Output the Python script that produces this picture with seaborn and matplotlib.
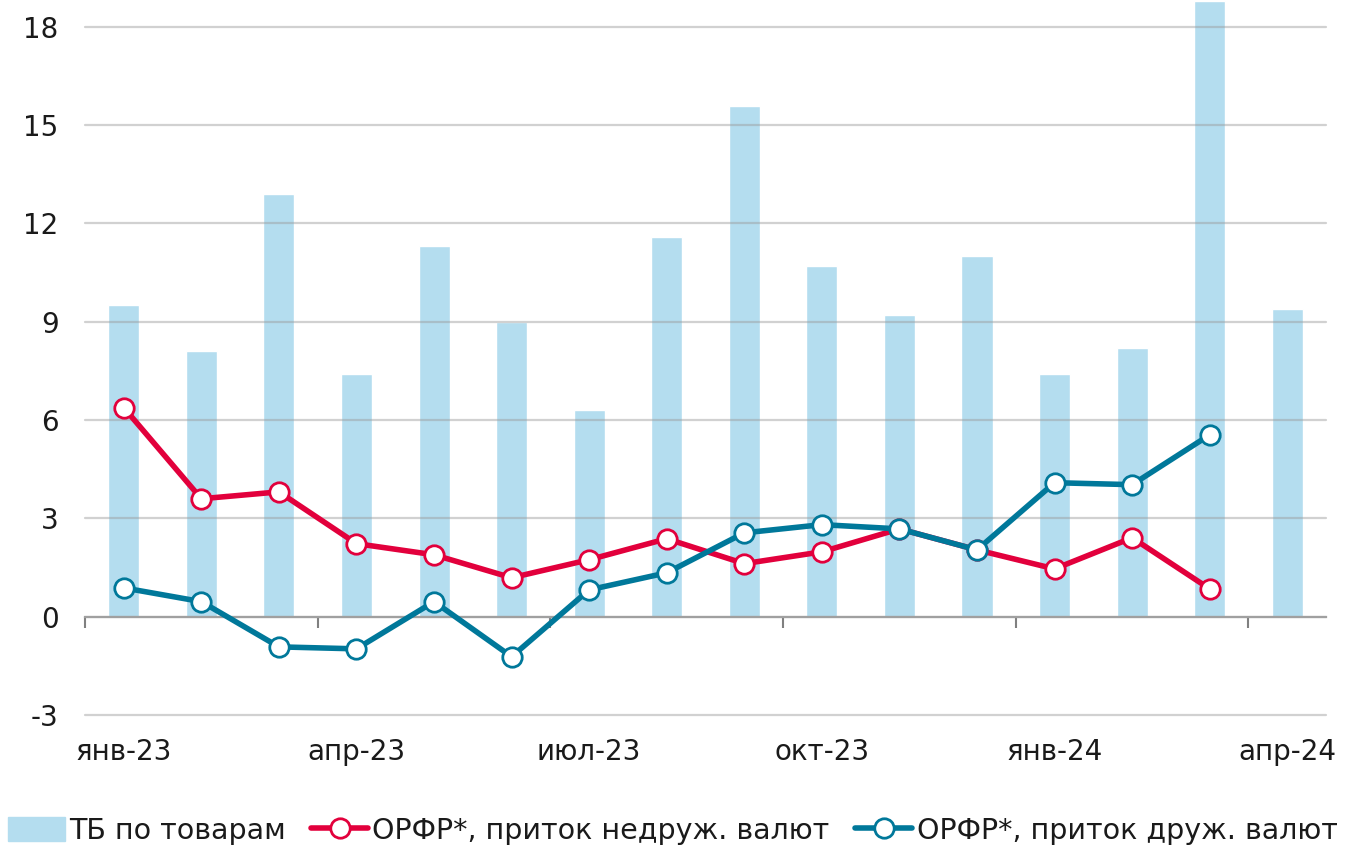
import matplotlib
matplotlib.use("Agg")
import matplotlib.pyplot as plt
import seaborn as sns
import pandas as pd
from matplotlib.lines import Line2D
from matplotlib.patches import Patch

# months on the x axis
months = ["янв-23", "фев-23", "мар-23", "апр-23", "май-23", "июн-23", "июл-23", "авг-23",
          "сен-23", "окт-23", "ноя-23", "дек-23", "янв-24", "фев-24", "мар-24", "апр-24"]
# visible tick labels (every third month)
shown_labels = ["янв-23", "апр-23", "июл-23", "окт-23", "янв-24", "апр-24"]

# trade balance on goods (bars)
tb_goods = [9.5, 8.1, 12.9, 7.4, 11.3, 9.0, 6.3, 11.6, 15.6, 10.7, 9.2, 11.0, 7.4, 8.2, 18.8, 9.4]
# ОРФР inflow, unfriendly currencies (red line), jan-23 .. mar-24
unfriendly = [6.38, 3.6, 3.81, 2.23, 1.89, 1.19, 1.74, 2.38, 1.62, 1.98, 2.68, 2.04, 1.46, 2.41, 0.85]
# ОРФР inflow, friendly currencies (teal line)
friendly = [0.88, 0.46, -0.92, -0.98, 0.46, -1.22, 0.82, 1.34, 2.56, 2.81, 2.68, 2.04, 4.09, 4.03, 5.55]

bar_color = "#b4ddef"
red = "#e2003c"
teal = "#00789a"

sns.set_style("white")
plt.rcParams["font.family"] = ["DejaVu Sans"]

fig = plt.figure(figsize=(13.45, 8.47), dpi=100)
ax = fig.add_axes([0.0632, 0.1558, 0.9227, 0.8442])

bars = pd.DataFrame({"pos": range(len(months)), "month": months, "tb": tb_goods})
lines = pd.DataFrame({"pos": list(range(len(unfriendly))), "unf": unfriendly, "fr": friendly})

sns.barplot(data=bars, x="pos", y="tb", color=bar_color, width=0.4, saturation=1,
            ax=ax, native_scale=True, zorder=1)

mk = dict(marker="o", ms=14, mfc="white", mew=2)
sns.lineplot(data=lines, x="pos", y="unf", color=red, lw=4, mec=red, ax=ax, zorder=3, **mk)
sns.lineplot(data=lines, x="pos", y="fr", color=teal, lw=4, mec=teal, ax=ax, zorder=4, **mk)

ax.set_xlim(-0.5, len(months) - 0.5)
ax.set_ylim(-3, 18.82)
ax.set_yticks([-3, 0, 3, 6, 9, 12, 15, 18])
ax.set_yticklabels(["-3", "0", "3", "6", "9", "12", "15", "18"])
ax.yaxis.grid(True, color="#9a9a9a", alpha=0.45, lw=1.6)
ax.set_axisbelow("line")
for gl in ax.get_ygridlines():
    gl.set_clip_on(False)

# x axis line at zero with boundary ticks every three months
for s in ["left", "right", "top"]:
    ax.spines[s].set_visible(False)
ax.spines["bottom"].set_position(("data", 0))
ax.spines["bottom"].set_color("#a0a0a0")
ax.spines["bottom"].set_linewidth(1.6)
ax.spines["bottom"].set_zorder(2)

label_pos = [months.index(m) for m in shown_labels]
ax.set_xticks(label_pos)
ax.set_xticklabels(shown_labels)
ax.set_xticks([p - 0.5 for p in label_pos], minor=True)
ax.tick_params(axis="x", which="major", bottom=True, length=0, pad=87, labelsize=20,
               colors="#1a1a1a")
ax.tick_params(axis="x", which="minor", bottom=True, length=8, width=1.5, color="#808080",
               direction="out")
ax.tick_params(axis="y", length=0, pad=19, labelsize=20, colors="#1a1a1a")
ax.set_xlabel("")
ax.set_ylabel("")

handles = [
    Patch(color=bar_color, label="ТБ по товарам"),
    Line2D([], [], color=red, lw=4, mec=red, label="ОРФР*, приток недруж. валют", **mk),
    Line2D([], [], color=teal, lw=4, mec=teal, label="ОРФР*, приток друж. валют", **mk),
]
fig.legend(handles=handles, loc="lower center", bbox_to_anchor=(0.5, -0.028), ncol=3,
           frameon=False, fontsize=20.5, handlelength=2.0, handletextpad=0.15,
           columnspacing=0.9, handleheight=0.9, labelcolor="#1a1a1a")

fig.savefig("out.png", dpi=100)
